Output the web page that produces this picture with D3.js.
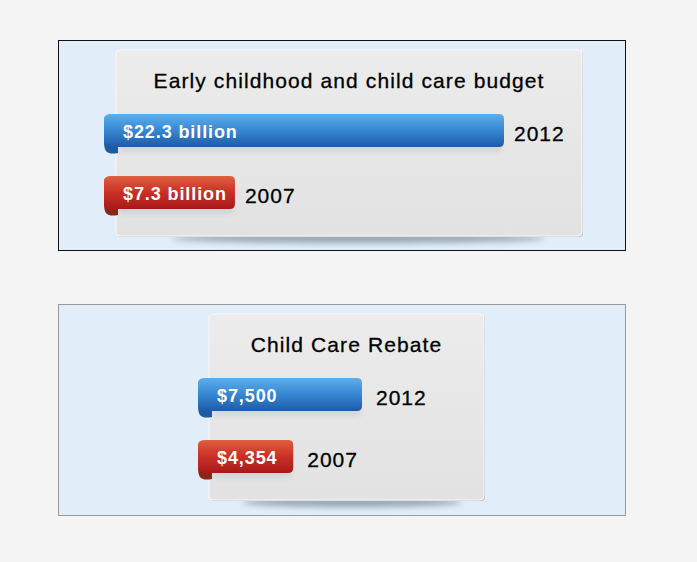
<!DOCTYPE html>
<html>
<head>
<meta charset="utf-8">
<script src="https://cdn.jsdelivr.net/npm/d3@7"></script>
<style>
  body { margin: 0; background: #f4f4f4; }
  svg text { font-family: "Liberation Sans", Arial, sans-serif; }
</style>
</head>
<body>
<div id="chart"></div>
<script>
// data
var panelTitles = ["Early childhood and child care budget", "Child Care Rebate"];
var years = ["2012", "2007"];
var budgetValues = [22.3, 7.3];        // $ billion
var budgetLabels = ["$22.3 billion", "$7.3 billion"];
var rebateValues = [7500, 4354];       // $
var rebateLabels = ["$7,500", "$4,354"];

var svg = d3.select("#chart").append("svg")
    .attr("width", 697)
    .attr("height", 562);

var defs = svg.append("defs");

function vGrad(id, stops) {
  var g = defs.append("linearGradient").attr("id", id)
      .attr("x1", 0).attr("y1", 0).attr("x2", 0).attr("y2", 1);
  stops.forEach(function(s) {
    g.append("stop").attr("offset", s[0]).attr("stop-color", s[1]);
  });
}
vGrad("blueGrad", [[0, "#5eaee8"], [0.45, "#3a8bd6"], [1, "#1c5ba8"]]);
vGrad("redGrad", [[0, "#e0603f"], [0.45, "#cc3328"], [1, "#a8191b"]]);
vGrad("cardGrad", [[0, "#ececec"], [1, "#e2e2e2"]]);

defs.append("filter").attr("id", "blur")
    .attr("x", "-20%").attr("y", "-200%").attr("width", "140%").attr("height", "500%")
  .append("feGaussianBlur").attr("stdDeviation", 3);

// one panel per measure
var panels = [
  { title: panelTitles[0], values: budgetValues, labels: budgetLabels,
    box: [58, 40, 567, 210], border: "#111",
    card: [116, 50, 466, 186], titleY: 88,
    barX: 104, barMax: 22.3, barLen: 400, rowY: [114, 176], yearGap: 10 },
  { title: panelTitles[1], values: rebateValues, labels: rebateLabels,
    box: [58, 304, 567, 211], border: "#9a9a9a",
    card: [209, 314, 275, 186], titleY: 352,
    barX: 198, barMax: 7500, barLen: 164, rowY: [378, 440], yearGap: 14 }
];

panels.forEach(function(p) {
  var g = svg.append("g");

  g.append("rect")
      .attr("x", p.box[0] + 0.5).attr("y", p.box[1] + 0.5)
      .attr("width", p.box[2]).attr("height", p.box[3])
      .attr("fill", "#e1eef9")
      .attr("stroke", p.border);

  var cx = p.card[0], cy = p.card[1], cw = p.card[2], ch = p.card[3];

  // soft shadow under the card
  g.append("ellipse")
      .attr("cx", cx + cw / 2 + cw * 0.02).attr("cy", cy + ch + 2)
      .attr("rx", cw * 0.4).attr("ry", 5)
      .attr("fill", "#8795a2").attr("opacity", 0.85)
      .attr("filter", "url(#blur)");

  g.append("rect")
      .attr("x", cx + 1).attr("y", cy + 1).attr("width", cw).attr("height", ch)
      .attr("rx", 4).attr("fill", "#c4c4c4");
  g.append("rect")
      .attr("x", cx).attr("y", cy).attr("width", cw).attr("height", ch)
      .attr("rx", 4).attr("fill", "url(#cardGrad)")
      .attr("stroke", "#f8f8f8");

  g.append("text")
      .attr("x", cx + cw / 2).attr("y", p.titleY)
      .attr("text-anchor", "middle")
      .attr("font-size", 21)
      .attr("letter-spacing", 1.1)
      .attr("fill", "#000")
      .attr("stroke", "#000").attr("stroke-width", 0.3)
      .text(p.title);

  var x = d3.scaleLinear().domain([0, p.barMax]).range([0, p.barLen]);
  var bh = 33;

  var rows = g.selectAll("g.row")
      .data(p.values.map(function(v, i) {
        return { v: v, label: p.labels[i], year: years[i], y: p.rowY[i], c: i === 0 ? "blue" : "red" };
      }))
      .enter().append("g").attr("class", "row");

  // faint shadow under ribbon
  rows.append("rect")
      .attr("x", p.barX + 14).attr("y", function(d) { return d.y + bh - 1; })
      .attr("width", function(d) { return x(d.v) - 16; }).attr("height", 4)
      .attr("fill", "#b0b0b0").attr("opacity", 0.6)
      .attr("filter", "url(#blur)");

  // curl at left end of the ribbon
  rows.append("path")
      .attr("d", function(d) {
        var x0 = p.barX, b = d.y + bh;
        return "M" + x0 + "," + (b - 6) +
               " C" + x0 + "," + (b + 5) + " " + (x0 + 3) + "," + (b + 8) + " " + (x0 + 14) + "," + (b + 6) +
               " L" + (x0 + 14) + "," + (b - 2) + " Z";
      })
      .attr("fill", function(d) { return d.c === "blue" ? "#1d5c9a" : "#8a2618"; });

  rows.append("path")
      .attr("d", function(d) {
        var x0 = p.barX, x1 = p.barX + x(d.v), t = d.y, b = d.y + bh, r = 5;
        return "M" + x0 + "," + (t + 4) +
               " Q" + (x0 + 1) + "," + t + " " + (x0 + 7) + "," + t +
               " L" + (x1 - r) + "," + t +
               " Q" + x1 + "," + t + " " + x1 + "," + (t + r) +
               " L" + x1 + "," + (b - r) +
               " Q" + x1 + "," + b + " " + (x1 - r) + "," + b +
               " L" + (x0 + 8) + "," + b +
               " Q" + x0 + "," + b + " " + x0 + "," + (b - 6) + " Z";
      })
      .attr("fill", function(d) { return d.c === "blue" ? "url(#blueGrad)" : "url(#redGrad)"; });

  rows.append("text")
      .attr("x", p.barX + 19).attr("y", function(d) { return d.y + 23.5; })
      .attr("font-size", 18).attr("font-weight", "bold")
      .attr("letter-spacing", 0.9)
      .attr("fill", "#fff")
      .text(function(d) { return d.label; });

  rows.append("text")
      .attr("x", function(d) { return p.barX + x(d.v) + p.yearGap; })
      .attr("y", function(d) { return d.y + 26.5; })
      .attr("font-size", 21).attr("letter-spacing", 1)
      .attr("fill", "#000")
      .attr("stroke", "#000").attr("stroke-width", 0.3)
      .text(function(d) { return d.year; });
});
</script>
</body>
</html>
